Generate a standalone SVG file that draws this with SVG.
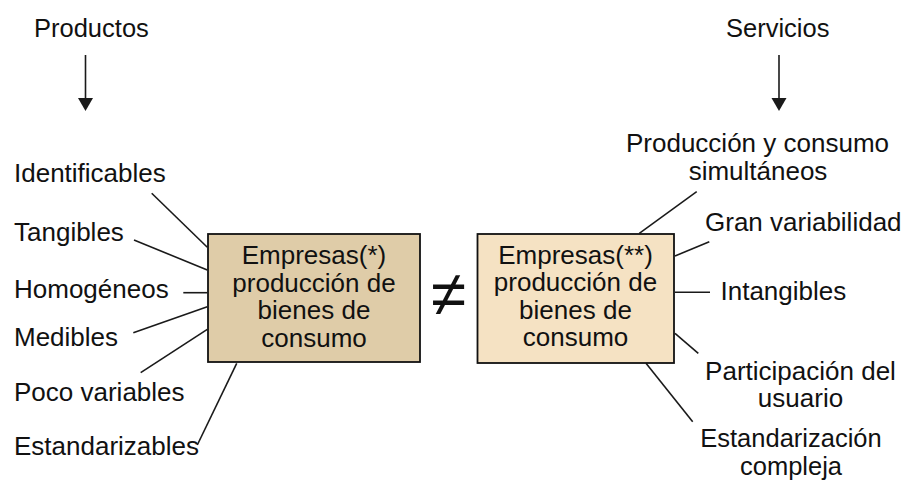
<svg xmlns="http://www.w3.org/2000/svg" width="906" height="480" viewBox="0 0 906 480">
<defs>
<style>
text{font-family:"Liberation Sans",Arial,sans-serif;fill:#111;}
.lbl{font-size:26px;}
.hdr{font-size:25.5px;}
.box{font-size:26px;text-anchor:middle;}
.mid{text-anchor:middle;}
.conn line{stroke:#1a1a1a;stroke-width:1.6;}
.arr{stroke:#1a1a1a;stroke-width:1.6;}
.head{fill:#1a1a1a;}
rect.node{stroke:#111;stroke-width:1.8;}
</style>
</defs>
<rect width="906" height="480" fill="#fff"/>

<g id="hdr-productos"><text class="hdr" x="34" y="37">Productos</text></g>
<g id="hdr-servicios"><text class="hdr" x="726" y="37">Servicios</text></g>

<g id="arrows">
<path class="arr" d="M85.5,55 V98"/>
<path class="head" d="M78,98 L93,98 L85.5,111 Z"/>
<path class="arr" d="M779,55 V98"/>
<path class="head" d="M771.5,98 L786.5,98 L779,111 Z"/>
</g>

<g class="conn" id="connectors">
<line x1="151.7" y1="193.3" x2="207.3" y2="247.3"/>
<line x1="134" y1="240" x2="207.3" y2="270"/>
<line x1="183.3" y1="292.7" x2="207.3" y2="292.7"/>
<line x1="133.3" y1="332.7" x2="207.3" y2="306.7"/>
<line x1="140.7" y1="372.7" x2="207.3" y2="329.3"/>
<line x1="197.3" y1="445" x2="236.7" y2="363.3"/>
<line x1="639.3" y1="233.3" x2="696.7" y2="191.7"/>
<line x1="675" y1="256" x2="709.3" y2="241.7"/>
<line x1="675" y1="292.3" x2="710" y2="292.3"/>
<line x1="675" y1="333.3" x2="698.3" y2="353.3"/>
<line x1="646" y1="363.3" x2="692.7" y2="421.7"/>
</g>

<g id="box-productos">
<rect class="node" x="208" y="234" width="212" height="128" fill="#dfcca8"/>
<text class="box" x="314" y="264">Empresas(*)</text>
<text class="box" x="314" y="291.5">producción de</text>
<text class="box" x="314" y="319">bienes de</text>
<text class="box" x="314" y="346.5">consumo</text>
</g>

<g id="neq"><text x="448.5" y="316" class="mid" style="font-size:64px">≠</text></g>

<g id="box-servicios">
<rect class="node" x="477.5" y="234" width="196.5" height="129" fill="#f5e2c3"/>
<text class="box" x="575.5" y="264">Empresas(**)</text>
<text class="box" x="575.5" y="291">producción de</text>
<text class="box" x="575.5" y="318.5">bienes de</text>
<text class="box" x="575.5" y="346">consumo</text>
</g>

<g id="l-identificables"><text class="lbl" x="14" y="182">Identificables</text></g>
<g id="l-tangibles"><text class="lbl" x="14" y="241">Tangibles</text></g>
<g id="l-homogeneos"><text class="lbl" x="14" y="297.5">Homogéneos</text></g>
<g id="l-medibles"><text class="lbl" x="14" y="345.5">Medibles</text></g>
<g id="l-poco"><text class="lbl" x="14" y="401">Poco variables</text></g>
<g id="l-estandarizables"><text class="lbl" x="14" y="455">Estandarizables</text></g>

<g id="r-produccion"><text class="lbl mid" x="757.5" y="152">Producción y consumo</text><text class="lbl mid" x="758" y="180">simultáneos</text></g>
<g id="r-gran"><text class="lbl" x="705" y="231">Gran variabilidad</text></g>
<g id="r-intangibles"><text class="lbl" x="720.5" y="299.5">Intangibles</text></g>
<g id="r-participacion"><text class="lbl mid" x="800.5" y="379.5">Participación del</text><text class="lbl mid" x="800.5" y="407">usuario</text></g>
<g id="r-estandarizacion"><text class="mid" style="font-size:25.5px" x="791" y="447">Estandarización</text><text class="mid" style="font-size:25.5px" x="791" y="474.5">compleja</text></g>
</svg>
